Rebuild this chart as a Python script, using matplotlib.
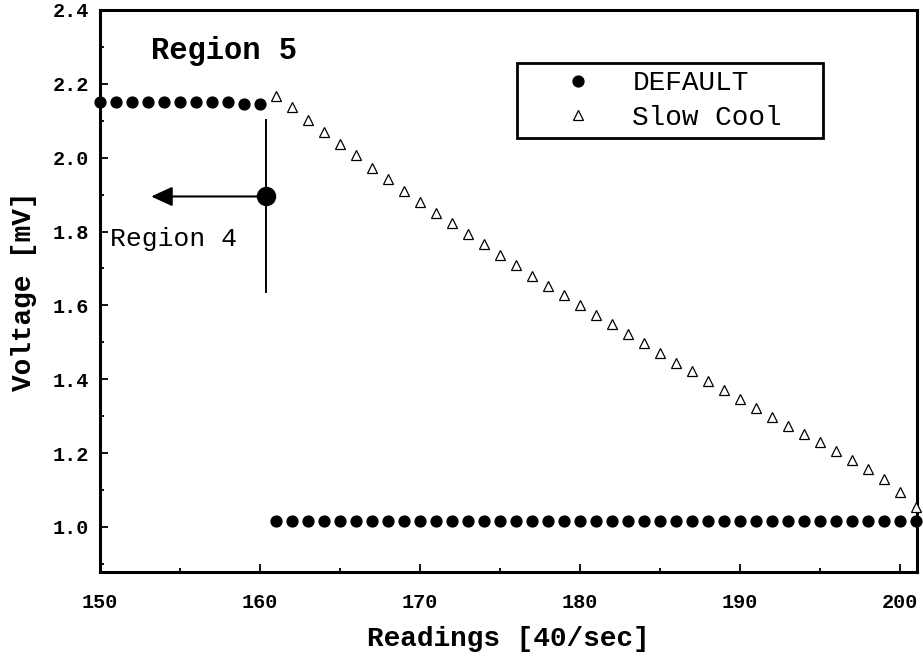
import matplotlib.pyplot as plt
from matplotlib.ticker import MultipleLocator, FormatStrFormatter

plt.rcParams['font.family'] = ['Liberation Mono', 'DejaVu Sans Mono']

# readings (x) and voltage for the two runs
default_x = list(range(150, 202))
default_v = [2.151, 2.151, 2.151, 2.151, 2.151, 2.151, 2.151, 2.151, 2.151,
             2.146, 2.146,
             1.015, 1.015, 1.015, 1.015, 1.015, 1.015, 1.015, 1.015, 1.015,
             1.015, 1.015, 1.015, 1.015, 1.015, 1.015, 1.015, 1.015, 1.015,
             1.015, 1.015, 1.015, 1.015, 1.015, 1.015, 1.015, 1.015, 1.015,
             1.015, 1.015, 1.015, 1.015, 1.015, 1.015, 1.015, 1.015, 1.015,
             1.015, 1.015, 1.015, 1.015, 1.015]

slow_x = list(range(161, 202))
slow_v = [2.168, 2.137, 2.101, 2.069, 2.038, 2.006, 1.973, 1.943, 1.911, 1.880,
          1.851, 1.824, 1.794, 1.765, 1.736, 1.709, 1.680, 1.653, 1.629, 1.600,
          1.573, 1.549, 1.522, 1.497, 1.470, 1.445, 1.422, 1.395, 1.371, 1.346,
          1.321, 1.297, 1.274, 1.253, 1.229, 1.206, 1.181, 1.157, 1.131, 1.095,
          1.053]

# region 4 boundary marker
mark_x, mark_v = 160.4, 1.895
mark_lo, mark_hi = 1.636, 2.103
arrow_to = 153.2

fig = plt.figure(figsize=(9.23, 6.56), dpi=100)
ax = fig.add_axes([100 / 923, 84 / 656, 816.7 / 923, 562 / 656])

ax.plot(default_x, default_v, 'o', color='black', ms=7.8, ls='none',
        clip_on=False, label='DEFAULT', zorder=3)
ax.plot(slow_x, slow_v, '^', mfc='white', mec='black', mew=0.9, ms=7,
        ls='none', clip_on=False, label='Slow Cool', zorder=3)

ax.plot([mark_x, mark_x], [mark_lo, mark_hi], color='black', lw=1.4)
ax.plot(mark_x, mark_v, 'o', color='black', ms=13)
ax.annotate('', xy=(arrow_to, mark_v), xytext=(mark_x, mark_v),
            arrowprops=dict(arrowstyle='-|>,head_length=0.65,head_width=0.3',
                            color='black', lw=1.5, mutation_scale=20,
                            shrinkA=0, shrinkB=0))

ax.text(arrow_to - 2.6, 1.781, 'Region 4', fontsize=19, va='center', ha='left')
ax.text(153.2, 2.29, 'Region 5', fontsize=22, fontweight='bold',
        va='center', ha='left')

ax.set_xlim(150, 201.04)
ax.set_ylim(0.878, 2.4)
ax.xaxis.set_major_locator(MultipleLocator(10))
ax.xaxis.set_minor_locator(MultipleLocator(5))
ax.yaxis.set_major_locator(MultipleLocator(0.2))
ax.yaxis.set_minor_locator(MultipleLocator(0.1))
ax.yaxis.set_major_formatter(FormatStrFormatter('%.1f'))

ax.tick_params(which='both', direction='in', top=False, right=False,
               width=1.3, labelsize=14.5)
ax.tick_params(which='major', length=6)
ax.tick_params(which='minor', length=3.2)
ax.tick_params(axis='x', pad=15)
ax.tick_params(axis='y', pad=8)
for lab in ax.get_xticklabels() + ax.get_yticklabels():
    lab.set_fontweight('bold')

for sp in ax.spines.values():
    sp.set_linewidth(2.2)

ax.set_xlabel('Readings [40/sec]', fontsize=20, fontweight='bold', labelpad=10)
ax.set_ylabel('Voltage [mV]', fontsize=20, fontweight='bold', labelpad=11)

# legend box stretched to a fixed width, entries kept at the left
leg_w = (822.7 - 517) / 816.7
leg = ax.legend(loc='upper left', bbox_to_anchor=(0.5106, 0.0, leg_w, 0.905),
                mode='expand', borderaxespad=0, fontsize=20, fancybox=False,
                edgecolor='black', framealpha=1, handlelength=3.9,
                handletextpad=0.0, borderpad=0.25, labelspacing=0.3)
leg.get_frame().set_linewidth(2.0)

fig.savefig('out.png', dpi=100)
